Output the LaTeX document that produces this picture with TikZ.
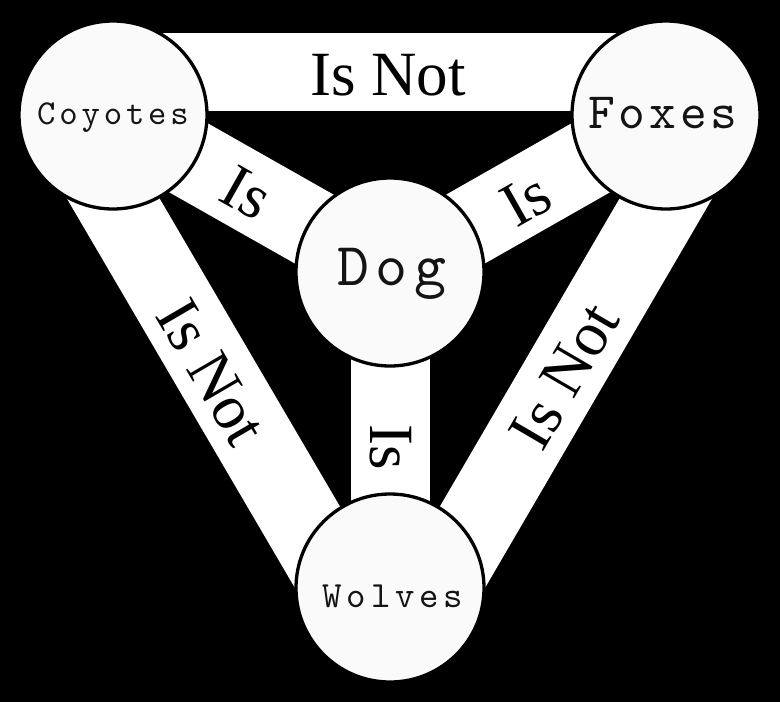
\documentclass[tikz,border=0pt]{standalone}
\usepackage{fontspec}
\setmainfont{Liberation Serif}
\newfontfamily\monof{lmmono10-regular.otf}
\usetikzlibrary{calc}
\begin{document}
\begin{tikzpicture}[x=1pt,y=-1pt,
  bar/.style={white,line width=80pt},
  ring/.style={circle,draw=black,line width=3.3pt,fill=black!2,minimum size=188pt,inner sep=0pt},
  serif/.style={font=\fontsize{63}{63}\selectfont,text=black,inner sep=0pt,text depth=0pt},
  mono/.style={text=black!92,inner sep=0pt,text depth=0pt}
]
\useasboundingbox (0,0) rectangle (780,702);
\fill[black] (0,0) rectangle (780,702);

\coordinate (coy) at (113,115);
\coordinate (fox) at (666,115);
\coordinate (dog) at (390,272);
\coordinate (wol) at (390,588);

% bars
\draw[bar,line width=78pt] ($(coy)!43pt!90:(fox)$) -- ($(fox)!43pt!-90:(coy)$);
\draw[bar] ($(coy)!42pt!-90:(wol)$) -- ($(wol)!42pt!90:(coy)$);
\draw[bar] ($(fox)!42pt!90:(wol)$) -- ($(wol)!42pt!-90:(fox)$);
\draw[bar,line width=79pt] (coy) -- (dog);
\draw[bar,line width=79pt] (fox) -- (dog);
\draw[bar,line width=79pt] (dog) -- (wol);

% circles
\node[ring] (ccoy) at (coy) {};
\node[ring] (cfox) at (fox) {};
\node[ring] (cdog) at (dog) {};
\node[ring] (cwol) at (wol) {};

% circle labels
\node[mono,text height=21pt,font=\monof\fontsize{35}{35}\selectfont\addfontfeature{LetterSpace=11}] (tcoy) at (113,113.5) {Coyotes};
\node[mono,text height=31pt,font=\monof\fontsize{51}{51}\selectfont\addfontfeature{LetterSpace=7.5}] (tfox) at (663,112.5) {Foxes};
\node[mono,text height=37pt,font=\monof\fontsize{61}{61}\selectfont\addfontfeature{LetterSpace=10}] (tdog) at (392,266.5) {Dog};
\node[mono,text height=23pt,font=\monof\fontsize{37}{37}\selectfont\addfontfeature{LetterSpace=13}] (twol) at (393,596) {Wolves};

% bar labels
\node[serif,text height=42pt] (ltop) at (388,74.5) {Is Not};
\node[serif,text height=42pt,rotate=-29.5] (lcd) at (247,192) {Is};
\node[serif,text height=42pt,rotate=29.5] (lfd) at (526,199) {Is};
\node[serif,text height=42pt,rotate=-90] (ldw) at (391,447) {Is};
\node[serif,text height=42pt,rotate=-59.7] (lcw) at (212,372) {Is Not};
\node[serif,text height=42pt,rotate=59.7] (lfw) at (564,376) {Is Not};
\end{tikzpicture}
\end{document}
